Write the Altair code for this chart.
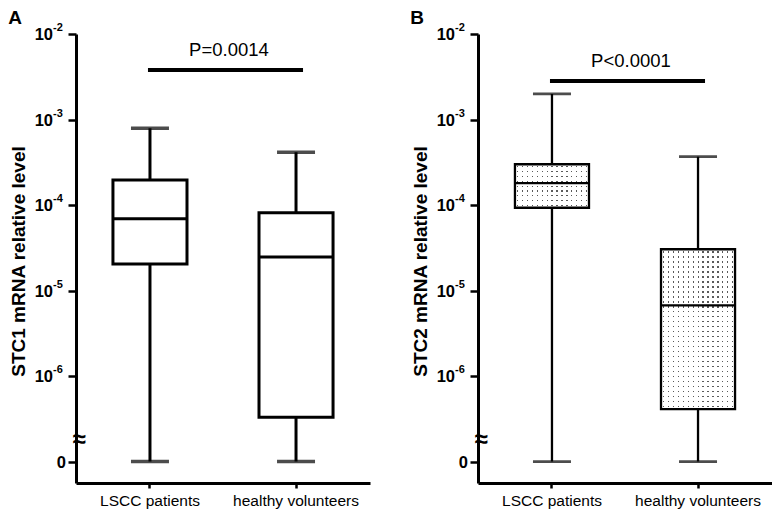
import altair as alt
import pandas as pd

groups = ["LSCC patients", "healthy volunteers"]

# Panel A (STC1)
a_low = [0, 0]
a_q1 = [2.05e-5, 3.3e-7]
a_med = [6.9e-5, 2.47e-5]
a_q3 = [1.96e-4, 8.15e-5]
a_high = [7.9e-4, 4.14e-4]

# Panel B (STC2)
b_low = [0, 0]
b_q1 = [9.3e-5, 4.1e-7]
b_med = [1.8e-4, 6.7e-6]
b_q3 = [3.0e-4, 3.04e-5]
b_high = [1.99e-3, 3.68e-4]

tick_values = [1e-2, 1e-3, 1e-4, 1e-5, 1e-6]
tick_exps = ["-2", "-3", "-4", "-5", "-6"]
zero_label = ["0"]

p_texts = ["P=0.0014", "P<0.0001"]
p_levels = [3.8e-3, 2.82e-3]

ZERO_POS = 1e-7      # where "0" sits on the broken log axis
BREAK_POS = 1.8e-7   # axis-break symbol
FONT = "Liberation Sans"

yscale = alt.Scale(type="log", domain=[10 ** -7.25, 1e-2], nice=False)
xscale = alt.Scale(domain=groups, paddingInner=0.493, paddingOuter=0.253)


def stripe_stops(n, on_color, off_color, start=0.4, end=0.65):
    stops = []
    for i in range(n):
        s = i / n
        e = (i + 1) / n
        a = s + start / n
        b = s + end / n
        stops += [
            {"offset": s, "color": off_color},
            {"offset": a, "color": off_color},
            {"offset": a, "color": on_color},
            {"offset": b, "color": on_color},
            {"offset": b, "color": off_color},
            {"offset": e, "color": off_color},
        ]
    return stops


def panel(low, q1, med, q3, high, ytitle, letter, ptext, plevel, dotted, lw,
          dot_rows, anchor):
    df = pd.DataFrame({"group": groups, "low": low, "q1": q1, "med": med,
                       "q3": q3, "high": high})
    base = alt.Chart(df).transform_calculate(
        lowp=f"datum.low == 0 ? {ZERO_POS} : datum.low")

    yaxis = alt.Axis(values=tick_values + [ZERO_POS], labels=False, tickSize=8,
                     tickWidth=2.5, tickColor="black", domainColor="black",
                     domainWidth=3, grid=False, title=ytitle, titleFont=FONT,
                     titleFontSize=19, titleFontWeight="bold", titleColor="black",
                     titleX=-48, titleY=227)
    xaxis = alt.Axis(title=None, labelAngle=0, labelFont=FONT, labelFontSize=15.5,
                     labelColor="black", labelPadding=5, tickSize=5, tickWidth=2.5,
                     tickColor="black", domainColor="black", domainWidth=3,
                     grid=False)

    def Y(field):
        return alt.Y(field, type="quantitative", scale=yscale, axis=yaxis)

    def X(field):
        return alt.X(field, type="nominal", scale=xscale, axis=xaxis)

    layers = []
    layers.append(base.mark_rule(color="black", strokeWidth=lw).encode(
        x=X("group"), y=Y("lowp"), y2="high:Q"))
    layers.append(base.mark_tick(orient="horizontal", size=38, thickness=lw + 0.5,
                                 color="black").encode(x=X("group"), y=Y("lowp")))
    layers.append(base.mark_tick(orient="horizontal", size=38, thickness=lw + 0.5,
                                 color="black").encode(x=X("group"), y=Y("high")))
    if dotted:
        for g, nrows in zip(groups, dot_rows):
            sub = base.transform_filter(alt.datum.group == g)
            col_fill = {"gradient": "linear", "x1": 0, "x2": 1, "y1": 0, "y2": 0,
                        "stops": stripe_stops(15, "#5a5a5a", "#ffffff")}
            row_fill = {"gradient": "linear", "x1": 0, "x2": 0, "y1": 0, "y2": 1,
                        "stops": stripe_stops(nrows, "rgba(255,255,255,0)", "#ffffff")}
            layers.append(sub.mark_rect(fill=col_fill).encode(
                x=X("group"), y=Y("q1"), y2="q3:Q"))
            layers.append(sub.mark_rect(fill=row_fill).encode(
                x=X("group"), y=Y("q1"), y2="q3:Q"))
        layers.append(base.mark_rect(fillOpacity=0, stroke="black", strokeWidth=lw).encode(
            x=X("group"), y=Y("q1"), y2="q3:Q"))
    else:
        layers.append(base.mark_rect(fill="white", stroke="black", strokeWidth=lw).encode(
            x=X("group"), y=Y("q1"), y2="q3:Q"))
    layers.append(base.mark_rect(fillOpacity=0, stroke="black", strokeWidth=lw).encode(
        x=X("group"), y=Y("med"), y2="med:Q"))

    # significance bar and label
    pdf = pd.DataFrame({"g1": [groups[0]], "g2": [groups[1]], "lvl": [plevel],
                        "txt": [ptext]})
    pbase = alt.Chart(pdf)
    layers.append(pbase.mark_rule(color="black", strokeWidth=4, xOffset=-2,
                                  x2Offset=7).encode(x=X("g1"), x2="g2:N", y=Y("lvl")))
    layers.append(pbase.mark_text(font=FONT, fontSize=18.5, align="center",
                                  baseline="alphabetic", dx=79, dy=-14,
                                  color="black").encode(
        x=X("g1"), y=Y("lvl"), text="txt:N"))

    # y tick labels (10 with superscript exponent, and 0)
    tdf = pd.DataFrame({"v": tick_values, "base": ["10"] * len(tick_values),
                        "exp": tick_exps})
    tbase = alt.Chart(tdf)
    layers.append(tbase.mark_text(font=FONT, fontSize=16.5, fontWeight="bold",
                                  align="right", baseline="middle", dy=1,
                                  color="black").encode(
        x=alt.value(-23), y=Y("v"), text="base:N"))
    layers.append(tbase.mark_text(font=FONT, fontSize=11, fontWeight="bold",
                                  align="left", baseline="middle", dy=-6,
                                  color="black").encode(
        x=alt.value(-23), y=Y("v"), text="exp:N"))
    zdf = pd.DataFrame({"v": [ZERO_POS], "t": zero_label})
    layers.append(alt.Chart(zdf).mark_text(font=FONT, fontSize=16.5, fontWeight="bold",
                                           align="right", baseline="middle", dy=1,
                                           color="black").encode(
        x=alt.value(-10), y=Y("v"), text="t:N"))
    # axis break symbol
    bdf = pd.DataFrame({"v": [BREAK_POS], "t": ["\u2248"]})
    layers.append(alt.Chart(bdf).mark_text(font=FONT, fontSize=24, fontWeight="bold",
                                           align="center", baseline="middle",
                                           color="black").encode(
        x=alt.value(3), y=Y("v"), text="t:N"))
    # panel letter
    ldf = pd.DataFrame({"t": [letter]})
    layers.append(alt.Chart(ldf).mark_text(font=FONT, fontSize=19, fontWeight="bold",
                                           align="center", baseline="middle",
                                           color="black").encode(
        x=alt.value(-61), y=alt.value(-16.5), text="t:N"))
    if anchor:
        # invisible layout anchor fixing the top-left corner of the drawing
        layers.append(alt.Chart(ldf).mark_rule(opacity=0).encode(
            x=alt.value(-68), x2=alt.value(-68), y=alt.value(-26), y2=alt.value(-26)))

    return alt.layer(*layers).properties(width=294, height=449)


pa = panel(a_low, a_q1, a_med, a_q3, a_high, "STC1 mRNA relative level", "A",
           p_texts[0], p_levels[0], False, 3, [0, 0], True)
pb = panel(b_low, b_q1, b_med, b_q3, b_high, "STC2 mRNA relative level", "B",
           p_texts[1], p_levels[1], True, 2.3, [9, 32], False)

chart = alt.hconcat(pa, pb, spacing=108, bounds="flush").properties(
    padding=0,
).configure(font=FONT, view=alt.ViewConfig(stroke=None))

chart.save("out.html", embed_options={"renderer": "svg", "actions": False})
